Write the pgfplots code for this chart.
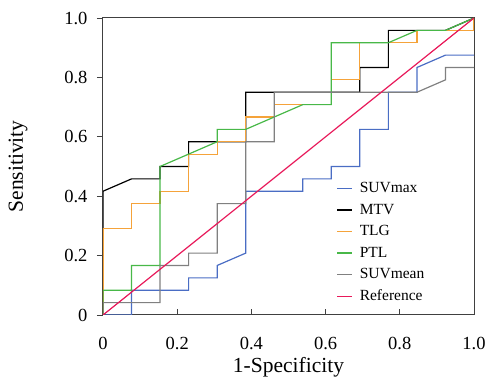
\documentclass[border=0pt]{standalone}
\usepackage{pgfplots}
\pgfplotsset{compat=1.18}
\usepackage{fontspec}
\setmainfont{Liberation Serif}
\definecolor{cblue}{HTML}{4A6DC4}
\definecolor{corange}{HTML}{F5A33A}
\definecolor{cgreen}{HTML}{48B848}
\definecolor{cgray}{HTML}{808080}
\definecolor{cred}{HTML}{E8195A}
\definecolor{caxis}{HTML}{404040}
\begin{document}
\begin{tikzpicture}
\begin{axis}[
  scale only axis, width=371pt, height=297pt,
  xmin=0, xmax=1, ymin=0, ymax=1,
  axis line style={caxis, line width=1pt},
  xtick={0,0.2,0.4,0.6,0.8,1.0}, xticklabels={0,0.2,0.4,0.6,0.8,1.0},
  ytick={0,0.2,0.4,0.6,0.8,1.0}, yticklabels={0,0.2,0.4,0.6,0.8,1.0},
  xtick pos=bottom, ytick pos=left,
  x tick style={caxis, line width=0.8pt}, y tick style={caxis, line width=0.8pt},
  xtick align=inside, ytick align=outside,
  major tick length=6pt,
  tick label style={font=\fontsize{18.5}{19}\selectfont},
  xticklabel style={yshift=-19pt},
  yticklabel style={xshift=-6pt},
  xlabel={1-Specificity}, ylabel={Sensitivity},
  label style={font=\fontsize{21.5}{22}\selectfont},
  xlabel style={yshift=0pt},
  ylabel style={yshift=30pt},
  legend style={at={(0.626,0.457)}, anchor=north west, draw=none, fill=none,
    font=\fontsize{15.5}{16}\selectfont, row sep=5.8pt, inner sep=1pt},
  legend cell align=left,
  legend image code/.code={\draw[#1, line width=1.4pt] (0pt,0pt) -- (15pt,0pt); \path (20pt,0pt);},
]
\coordinate (bl) at (rel axis cs:0,0);
\coordinate (tr) at (rel axis cs:1,1);
% SUVmax
\addplot[cblue, line width=1.2pt] coordinates {
(0,0) (0.0769,0) (0.0769,0.0833) (0.2308,0.0833) (0.2308,0.125) (0.3077,0.125)
(0.3077,0.1667) (0.3846,0.2083) (0.3846,0.4167) (0.5385,0.4167) (0.5385,0.4583)
(0.6154,0.4583) (0.6154,0.5) (0.6923,0.5) (0.6923,0.625) (0.7692,0.625)
(0.7692,0.75) (0.8462,0.75) (0.8462,0.8333) (0.9231,0.875) (1,0.875)};
% MTV
\addplot[black, line width=1.2pt] coordinates {
(0,0) (0,0.4167) (0.0769,0.4583) (0.1538,0.4583) (0.1538,0.5) (0.2308,0.5)
(0.2308,0.5833) (0.3846,0.5833) (0.3846,0.75) (0.6923,0.75) (0.6923,0.8333)
(0.7692,0.8333) (0.7692,0.9583) (0.9231,0.9583) (1,1)};
% TLG
\addplot[corange, line width=1.2pt] coordinates {
(0,0) (0,0.2917) (0.0769,0.2917) (0.0769,0.375) (0.1538,0.375) (0.1538,0.4167)
(0.2308,0.4167) (0.2308,0.5417) (0.3077,0.5417) (0.3077,0.5833) (0.3846,0.5833)
(0.3846,0.6667) (0.4615,0.6667) (0.4615,0.7083) (0.6154,0.7083) (0.6154,0.7917)
(0.6923,0.7917) (0.6923,0.9167) (0.8462,0.9167) (0.8462,0.9583) (1,0.9583) (1,1)};
% PTL
\addplot[cgreen, line width=1.2pt] coordinates {
(0,0) (0,0.0833) (0.0769,0.0833) (0.0769,0.1667) (0.1538,0.1667) (0.1538,0.5)
(0.3077,0.5833) (0.3077,0.625) (0.3846,0.625) (0.5385,0.7083) (0.6154,0.7083)
(0.6154,0.9167) (0.7692,0.9167) (0.8462,0.9583) (0.9231,0.9583) (1,1)};
% SUVmean
\addplot[cgray, line width=1.2pt] coordinates {
(0,0) (0,0.0417) (0.1538,0.0417) (0.1538,0.1667) (0.2308,0.1667) (0.2308,0.2083)
(0.3077,0.2083) (0.3077,0.375) (0.3846,0.375) (0.3846,0.5833) (0.4615,0.5833)
(0.4615,0.75) (0.8462,0.75) (0.9231,0.7917) (0.9231,0.8333) (1,0.8333)};
% Reference
\addplot[cred, line width=1.2pt] coordinates {(0,0) (1,1)};
\legend{SUVmax,MTV,TLG,PTL,SUVmean,Reference}
\end{axis}
\path ([xshift=-103pt,yshift=-69pt]bl) rectangle ([xshift=16pt,yshift=18pt]tr);
\end{tikzpicture}
\end{document}
